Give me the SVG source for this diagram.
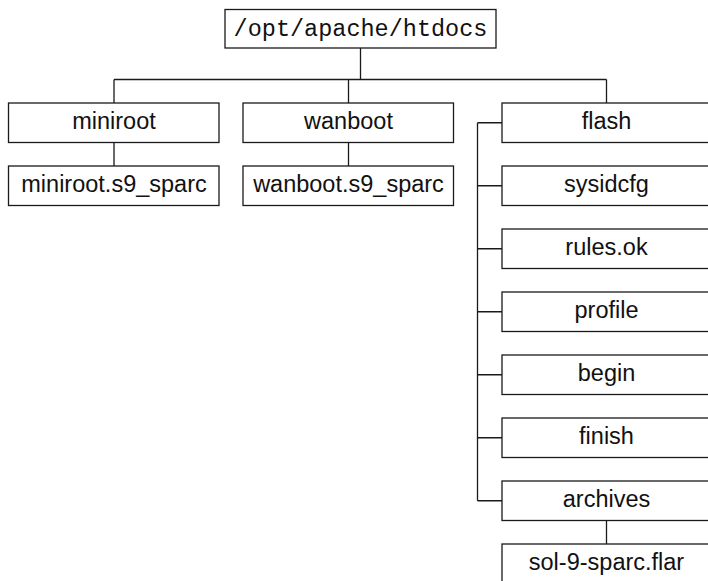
<svg xmlns="http://www.w3.org/2000/svg" width="708" height="581" viewBox="0 0 708 581">
<style>
.box{fill:#fff;stroke:#1a1a1a;stroke-width:1.3}
.t{font-family:"Liberation Sans",Arial,Helvetica,sans-serif;font-size:23.5px;fill:#111;text-anchor:middle}
.m{font-family:"Liberation Mono","Courier New",monospace;font-size:23.5px;fill:#111;text-anchor:middle}
.ln{stroke:#1a1a1a;stroke-width:1.3;fill:none}
</style>
<rect width="708" height="581" fill="#fff"/>
<g id="connectors">
<path class="ln" d="M360.5,48 V79.5 M114,79.5 H606.5 M114,79.5 V103 M348.5,79.5 V103 M606.5,79.5 V103"/>
<path class="ln" d="M114,142.5 V166 M348.5,142.5 V166 M606.5,520 V544"/>
<path class="ln" d="M477.5,122.75 V500.75 M477.5,122.75 H502 M477.5,185.75 H502 M477.5,248.75 H502 M477.5,311.75 H502 M477.5,374.75 H502 M477.5,437.75 H502 M477.5,500.75 H502"/>
</g>
<g id="root"><rect class="box" x="225" y="9.5" width="271" height="38.5"/><text class="m" x="360.5" y="36">/opt/apache/htdocs</text></g>
<g id="miniroot"><rect class="box" x="8.5" y="103" width="210.5" height="39.5"/><text class="t" x="114" y="129">miniroot</text></g>
<g id="miniroot-s9"><rect class="box" x="8.5" y="166" width="210.5" height="39.5"/><text class="t" x="114" y="192">miniroot.s9_sparc</text></g>
<g id="wanboot"><rect class="box" x="243" y="103" width="210.5" height="39.5"/><text class="t" x="348.5" y="129">wanboot</text></g>
<g id="wanboot-s9"><rect class="box" x="243" y="166" width="210.5" height="39.5"/><text class="t" x="348.5" y="192">wanboot.s9_sparc</text></g>
<g id="flash"><rect class="box" x="502" y="103" width="210" height="39.5"/><text class="t" x="606.5" y="129">flash</text></g>
<g id="sysidcfg"><rect class="box" x="502" y="166" width="210" height="39.5"/><text class="t" x="606.5" y="192">sysidcfg</text></g>
<g id="rules-ok"><rect class="box" x="502" y="229" width="210" height="39.5"/><text class="t" x="606.5" y="255">rules.ok</text></g>
<g id="profile"><rect class="box" x="502" y="292" width="210" height="39.5"/><text class="t" x="606.5" y="318">profile</text></g>
<g id="begin"><rect class="box" x="502" y="355" width="210" height="39.5"/><text class="t" x="606.5" y="381">begin</text></g>
<g id="finish"><rect class="box" x="502" y="418" width="210" height="39.5"/><text class="t" x="606.5" y="444">finish</text></g>
<g id="archives"><rect class="box" x="502" y="481" width="210" height="39.5"/><text class="t" x="606.5" y="507">archives</text></g>
<g id="sol-flar"><rect class="box" x="502" y="544" width="210" height="39.5"/><text class="t" x="606.5" y="570">sol-9-sparc.flar</text></g>
</svg>
